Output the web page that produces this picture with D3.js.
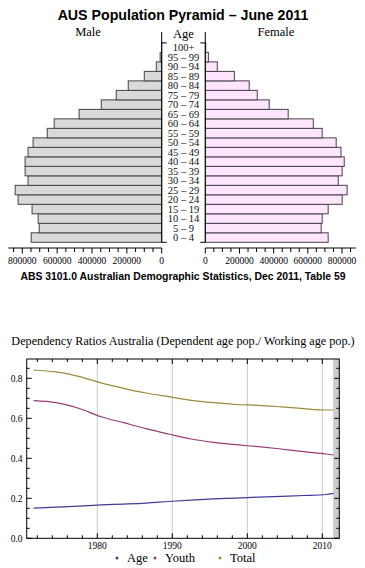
<!DOCTYPE html>
<html><head><meta charset="utf-8">
<script src="https://cdn.jsdelivr.net/npm/d3@7"></script>
<style>body{margin:0;background:#fff}svg{display:block}</style>
</head><body>
<script>
// ---------- Data ----------
const ageGroups = ["0 – 4","5 – 9","10 – 14","15 – 19","20 – 24","25 – 29","30 – 34","35 – 39","40 – 44","45 – 49","50 – 54","55 – 59","60 – 64","65 – 69","70 – 74","75 – 79","80 – 84","85 – 89","90 – 94","95 – 99","100+"];
const male   = [749000,703000,709000,744000,824000,841000,767000,784000,784000,767000,738000,657000,617000,474000,347000,261000,192000,100000,31000,9000,700];
const female = [719000,678000,684000,719000,801000,830000,778000,801000,813000,794000,766000,684000,632000,485000,374000,304000,257000,170000,70000,18000,2500];
const popTicks = [0,200000,400000,600000,800000];

const years = [1971.5,1974.5,1977.5,1980.5,1983.5,1986.5,1989.5,1992.5,1995.5,1998.5,2001.5,2004.5,2007.5,2010.5,2011.5];
const ageRatio   = [0.151,0.156,0.161,0.167,0.171,0.176,0.184,0.191,0.197,0.201,0.206,0.210,0.214,0.219,0.225];
const youthRatio = [0.688,0.678,0.650,0.608,0.578,0.548,0.5215,0.4965,0.480,0.468,0.458,0.4465,0.433,0.4215,0.4165];
const totalRatio = [0.8415,0.832,0.810,0.777,0.750,0.7265,0.708,0.690,0.678,0.669,0.665,0.657,0.648,0.6415,0.6415];
const yearTicks = [1980,1990,2000,2010];
const ratioTicks = [0,0.2,0.4,0.6,0.8];
const seriesNames = ["Age","Youth","Total"];
const seriesColors = ["#3d3d99","#993d71","#998b3d"];

// ---------- SVG ----------
const W=365,H=568;
const svg=d3.select("body").append("svg").attr("width",W).attr("height",H);
const serif="'Liberation Serif','Times New Roman',serif";
const sans="'Liberation Sans',Arial,sans-serif";

// Title
svg.append("text").attr("x",183).attr("y",20).attr("text-anchor","middle")
  .attr("font-family",sans).attr("font-weight","bold").attr("font-size",14.2).text("AUS Population Pyramid – June 2011");

// Pyramid scales
const yBand = d3.scaleBand().domain(d3.range(ageGroups.length)).range([242.3,42.9]).paddingInner(0);
const xM = d3.scaleLinear().domain([0,800000]).range([161.7,22.3]);
const xF = d3.scaleLinear().domain([0,800000]).range([205.3,342]);

const gM=svg.append("g");
gM.selectAll("rect").data(male).join("rect")
  .attr("x",d=>xM(d)).attr("width",d=>xM(0)-xM(d))
  .attr("y",(d,i)=>yBand(i)).attr("height",yBand.bandwidth())
  .attr("fill","#d9d9d9").attr("stroke","#444").attr("stroke-width",1);
const gF=svg.append("g");
gF.selectAll("rect").data(female).join("rect")
  .attr("x",xF(0)).attr("width",d=>xF(d)-xF(0))
  .attr("y",(d,i)=>yBand(i)).attr("height",yBand.bandwidth())
  .attr("fill","#fde6fb").attr("stroke","#4a3d4a").attr("stroke-width",1);

// vertical axis lines
[[xM(0),1],[xF(0),-1]].forEach(([x,dir])=>{
  svg.append("line").attr("x1",x).attr("x2",x).attr("y1",32).attr("y2",242.3).attr("stroke","#000").attr("stroke-width",1);
  svg.append("line").attr("x1",x).attr("x2",x+dir*5).attr("y1",42.9).attr("y2",42.9).attr("stroke","#000");
  svg.append("line").attr("x1",x).attr("x2",x+dir*5).attr("y1",242.3).attr("y2",242.3).attr("stroke","#000");
});

// Age labels
svg.append("g").selectAll("text").data(ageGroups).join("text")
  .attr("x",183.5).attr("y",(d,i)=>yBand(i)+yBand.bandwidth()/2+3.6)
  .attr("text-anchor","middle").attr("font-family",serif).attr("font-size",10.5).attr("fill","#111").text(d=>d);

svg.append("text").attr("x",183.5).attr("y",37.5).attr("text-anchor","middle").attr("font-family",serif).attr("font-size",12.5).text("Age");
svg.append("text").attr("x",88).attr("y",36).attr("text-anchor","middle").attr("font-family",serif).attr("font-size",12.5).text("Male");
svg.append("text").attr("x",276).attr("y",36).attr("text-anchor","middle").attr("font-family",serif).attr("font-size",12.5).text("Female");

// bottom axes
function popAxis(scale,extent){
  const g=svg.append("g").attr("transform","translate(0,248)");
  g.append("line").attr("x1",scale(0)).attr("x2",scale(extent)).attr("stroke","#000");
  const minor=d3.range(0,extent+1,50000);
  g.selectAll(".t").data(minor).join("line").attr("x1",d=>scale(d)).attr("x2",d=>scale(d))
    .attr("y1",0).attr("y2",d=>d%200000===0?5.5:4).attr("stroke","#000");
  g.selectAll("text").data(popTicks).join("text").attr("x",d=>scale(d)).attr("y",16)
    .attr("text-anchor","middle").attr("font-family",serif).attr("font-size",9.5).text(d=>d3.format("d")(d));
}
popAxis(xM,880000);
popAxis(xF,880000);

svg.append("text").attr("x",183).attr("y",280).attr("text-anchor","middle")
  .attr("font-family",sans).attr("font-weight","bold").attr("font-size",10.4)
  .text("ABS 3101.0 Australian Demographic Statistics, Dec 2011, Table 59");

// ---------- Dependency chart ----------
svg.append("text").attr("x",183).attr("y",345).attr("text-anchor","middle")
  .attr("font-family",serif).attr("font-size",12.2)
  .text("Dependency Ratios Australia (Dependent age pop./ Working age pop.)");

const L=26.7,R=339.3,T=359,B=538.3;
const x=d3.scaleLinear().domain([1970,2010]).range([22.3,322.3]);
const y=d3.scaleLinear().domain([0,0.8]).range([B,378.3]);
const g2=svg.append("g");
// gray band
g2.append("rect").attr("x",x(2011.45)).attr("y",T).attr("width",R-x(2011.45)).attr("height",B-T).attr("fill","#cccccc");
// grid
g2.selectAll(".grid").data(yearTicks).join("line").attr("x1",d=>x(d)).attr("x2",d=>x(d)).attr("y1",T).attr("y2",B)
  .attr("stroke","#c8c8c8").attr("stroke-width",1);
// lines
const series=[ageRatio,youthRatio,totalRatio];
const line=d3.line().x((d,i)=>x(years[i])).y(d=>y(d)).curve(d3.curveMonotoneX);
series.forEach((s,k)=>{
  g2.append("path").attr("d",line(s)).attr("fill","none").attr("stroke",seriesColors[k]).attr("stroke-width",1.2);
});
// frame
g2.append("rect").attr("x",L).attr("y",T).attr("width",R-L).attr("height",B-T).attr("fill","none").attr("stroke","#000");
// x ticks
const xt=d3.range(1972,2012,2);
xt.forEach(v=>{
  const major=v%10===0, len=major?5:3;
  const px=x(v);
  g2.append("line").attr("x1",px).attr("x2",px).attr("y1",B).attr("y2",B-len).attr("stroke","#000");
  g2.append("line").attr("x1",px).attr("x2",px).attr("y1",T).attr("y2",T+len).attr("stroke","#000");
});
yearTicks.forEach(v=>{
  g2.append("text").attr("x",x(v)).attr("y",549).attr("text-anchor","middle").attr("font-family",serif).attr("font-size",9.5).text(v);
});
// y ticks
d3.range(0,0.9,0.05).forEach(v=>{
  const major=Math.abs(v*5-Math.round(v*5))<1e-6, len=major?5:3;
  const py=y(v);
  g2.append("line").attr("x1",L).attr("x2",L+len).attr("y1",py).attr("y2",py).attr("stroke","#000");
  g2.append("line").attr("x1",R).attr("x2",R-len).attr("y1",py).attr("y2",py).attr("stroke","#000");
});
ratioTicks.forEach(v=>{
  g2.append("text").attr("x",22.5).attr("y",y(v)+3.3).attr("text-anchor","end").attr("font-family",serif).attr("font-size",9.5).text(d3.format(".1f")(v));
});
// legend
const legX=[117,155,220];
seriesNames.forEach((n,k)=>{
  svg.append("circle").attr("cx",legX[k]).attr("cy",558).attr("r",1.5).attr("fill",seriesColors[k]);
  svg.append("text").attr("x",legX[k]+10).attr("y",562).attr("font-family",serif).attr("font-size",12.5).text(n);
});
</script>
</body></html>
